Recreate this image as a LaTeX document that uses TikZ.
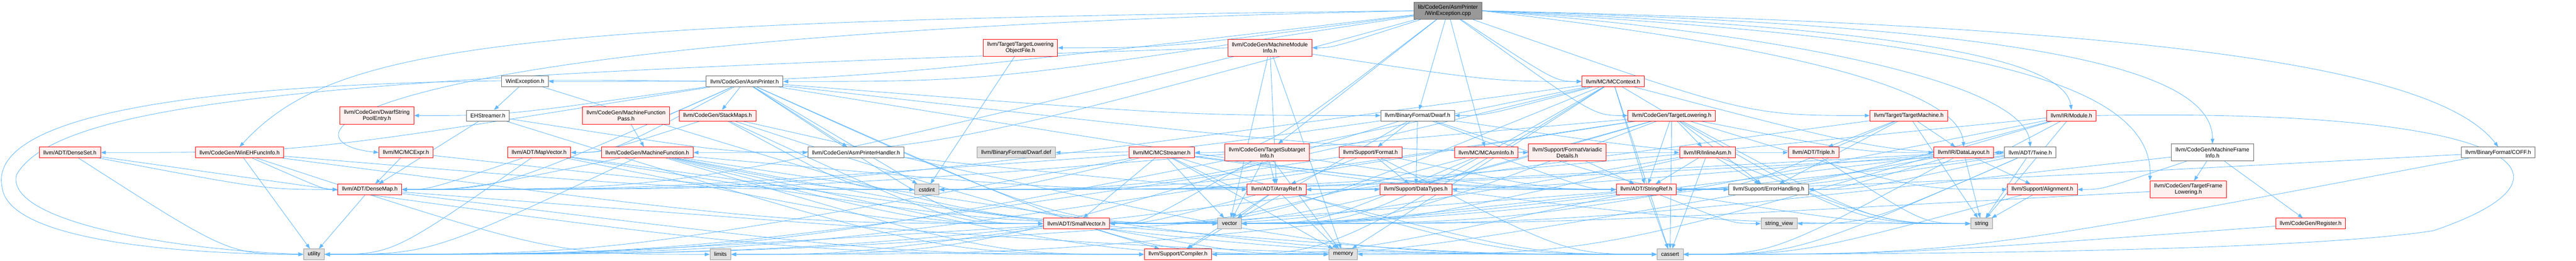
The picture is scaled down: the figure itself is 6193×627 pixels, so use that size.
\documentclass[tikz,border=0pt]{standalone}
\usepackage{fontspec}
\setmainfont{Liberation Sans}
\usetikzlibrary{arrows.meta}
\definecolor{eb}{HTML}{63B8FF}
\definecolor{rf}{HTML}{FFF0F0}
\definecolor{gf}{HTML}{E0E0E0}
\definecolor{gb}{HTML}{999999}
\definecolor{wb}{HTML}{666666}
\pgfdeclarelayer{bg}
\pgfsetlayers{bg,main}
\tikzset{
 nd/.style={draw, line width=0.8pt, font=\fontsize{10}{11.2}\selectfont, inner xsep=7.5pt, inner ysep=2pt, minimum height=19.5pt, align=center},
 rn/.style={nd, draw=red, fill=rf},
 wn/.style={nd, draw=wb, fill=white},
 gn/.style={nd, draw=gb, fill=gf},
 mn/.style={nd, draw=wb, fill=gb},
 two/.style={minimum height=30.75pt},
 e/.style={draw=eb, line width=0.8pt, -{Triangle[length=9pt,width=6.5pt]}},
}
\begin{document}
\begin{tikzpicture}[x=0.75pt,y=-0.75pt]
\useasboundingbox (0,0) rectangle (6193,627);
% row 0/1/2
\node[mn,two] (main) at (3481,26) {lib/CodeGen/AsmPrinter\\/WinException.cpp};
\node[rn,two] (tlof) at (2453,115) {llvm/Target/TargetLowering\\ObjectFile.h};
\node[rn,two] (mmi) at (3053,115) {llvm/CodeGen/MachineModule\\Info.h};
\node[wn] (winexh) at (1262,196) {WinException.h};
\node[wn] (asmp) at (1790,196) {llvm/CodeGen/AsmPrinter.h};
\node[rn] (mcctx) at (3878,196) {llvm/MC/MCContext.h};
% row 3
\node[rn,two] (dspe) at (906,278) {llvm/CodeGen/DwarfString\\PoolEntry.h};
\node[wn] (ehs) at (1173,278) {EHStreamer.h};
\node[rn,two] (mfp) at (1505,278) {llvm/CodeGen/MachineFunction\\Pass.h};
\node[rn] (stackmaps) at (1725,278) {llvm/CodeGen/StackMaps.h};
\node[wn] (dwarfh) at (3408,278) {llvm/BinaryFormat/Dwarf.h};
\node[rn] (tl) at (4019,278) {llvm/CodeGen/TargetLowering.h};
\node[rn] (tm) at (4589,278) {llvm/Target/TargetMachine.h};
\node[rn] (module) at (4980,278) {llvm/IR/Module.h};
% row 4
\node[rn] (denseset) at (168,367) {llvm/ADT/DenseSet.h};
\node[rn] (wineh) at (576,367) {llvm/CodeGen/WinEHFuncInfo.h};
\node[rn] (mcexpr) at (976,367) {llvm/MC/MCExpr.h};
\node[rn] (mapvec) at (1296,367) {llvm/ADT/MapVector.h};
\node[rn] (mf) at (1556,367) {llvm/CodeGen/MachineFunction.h};
\node[wn] (aph) at (2058,367) {llvm/CodeGen/AsmPrinterHandler.h};
\node[gn] (dwarfdef) at (2443,367) {llvm/BinaryFormat/Dwarf.def};
\node[rn] (mcstreamer) at (2793,367) {llvm/MC/MCStreamer.h};
\node[rn,two] (tsi) at (3046,367) {llvm/CodeGen/TargetSubtarget\\Info.h};
\node[rn] (format) at (3295,367) {llvm/Support/Format.h};
\node[rn] (mcasminfo) at (3573,367) {llvm/MC/MCAsmInfo.h};
\node[rn,two] (fvd) at (3768,367) {llvm/Support/FormatVariadic\\Details.h};
\node[rn] (inlineasm) at (4105,367) {llvm/IR/InlineAsm.h};
\node[rn] (triple) at (4360,367) {llvm/ADT/Triple.h};
\node[rn] (datalayout) at (4721,367) {llvm/IR/DataLayout.h};
\node[wn] (twine) at (4881,367) {llvm/ADT/Twine.h};
\node[wn,two] (mfi) at (5319,367) {llvm/CodeGen/MachineFrame\\Info.h};
\node[wn] (coff) at (6006,367) {llvm/BinaryFormat/COFF.h};
% row 5
\node[rn] (densemap) at (889,456) {llvm/ADT/DenseMap.h};
\node[gn] (cstdint) at (2228,456) {cstdint};
\node[rn] (arrayref) at (3069,456) {llvm/ADT/ArrayRef.h};
\node[rn] (datatypes) at (3404,456) {llvm/Support/DataTypes.h};
\node[rn] (stringref) at (3958,456) {llvm/ADT/StringRef.h};
\node[wn] (errh) at (4252,456) {llvm/Support/ErrorHandling.h};
\node[rn] (align) at (4910,456) {llvm/Support/Alignment.h};
\node[rn,two] (tfl) at (5261,456) {llvm/CodeGen/TargetFrame\\Lowering.h};
% row 6
\node[rn] (smallvec) at (2588,538) {llvm/ADT/SmallVector.h};
\node[gn] (vector) at (2956,538) {vector};
\node[gn] (stringview) at (4277,538) {string\_view};
\node[gn] (string) at (4764,538) {string};
\node[rn] (register) at (5555,538) {llvm/CodeGen/Register.h};
% row 7
\node[gn] (utility) at (755,612) {utility};
\node[gn] (limits) at (1732,612) {limits};
\node[rn] (compiler) at (2832,612) {llvm/Support/Compiler.h};
\node[gn] (memory) at (3229,612) {memory};
\node[gn] (cassert) at (4015,612) {cassert};

\begin{pgfonlayer}{bg}
\foreach \a/\b in {main/winexh, main/asmp, main/mmi, main/tlof, main/mcctx, main/dwarfh, main/tl, main/tm, main/tsi, main/mcasminfo, main/mcstreamer, main/mf,
 winexh/ehs, winexh/vector, ehs/aph, ehs/densemap, ehs/compiler,
 asmp/densemap, asmp/mapvec, asmp/smallvec, asmp/dwarfh, asmp/aph, asmp/dspe, asmp/mfp, asmp/stackmaps, asmp/inlineasm, asmp/errh, asmp/cstdint, asmp/memory, asmp/vector, asmp/denseset,
 aph/datatypes, mfp/mf,
 stackmaps/mapvec, stackmaps/smallvec, stackmaps/cassert, stackmaps/cstdint, stackmaps/vector,
 mf/arrayref, mf/densemap, mf/smallvec, mf/compiler, mf/cassert, mf/cstdint, mf/memory, mf/utility, mf/vector,
 mapvec/smallvec, mapvec/densemap, mapvec/cassert, mapvec/utility, mapvec/vector,
 mmi/arrayref, mmi/densemap, mmi/mcctx, mmi/memory, mmi/vector, tlof/cstdint,
 mcctx/densemap, mcctx/smallvec, mcctx/stringref, mcctx/twine, mcctx/dwarfh, mcctx/compiler, mcctx/cassert, mcctx/cstdint, mcctx/memory, mcctx/string, mcctx/utility, mcctx/vector,
 dwarfh/compiler, dwarfh/datatypes, dwarfh/errh, dwarfh/format, dwarfh/fvd, dwarfh/triple, dwarfh/limits, dwarfh/dwarfdef,
 tl/arrayref, tl/densemap, tl/smallvec, tl/stringref, tl/inlineasm, tl/datalayout, tl/errh, tl/align, tl/cassert, tl/cstdint, tl/string, tl/utility, tl/vector,
 tm/triple, tm/datalayout, tm/stringref, tm/string, tm/utility, tm/errh,
 module/datalayout, module/stringref, module/cstdint, module/memory, module/string, module/vector,
 datalayout/arrayref, datalayout/smallvec, datalayout/stringref, datalayout/align, datalayout/errh, datalayout/cassert, datalayout/cstdint, datalayout/string,
 twine/smallvec, twine/stringref, twine/errh, twine/cassert, twine/cstdint, twine/string, twine/stringview,
 mfi/tfl, mfi/register, mfi/align, mfi/vector, coff/datatypes, coff/cassert, tfl/vector, register/cassert,
 denseset/densemap, denseset/utility, denseset/compiler,
 wineh/densemap, wineh/smallvec, wineh/cstdint, wineh/limits, wineh/utility,
 mcexpr/densemap, mcexpr/cstdint, densemap/compiler, densemap/cassert, densemap/utility,
 mcstreamer/arrayref, mcstreamer/densemap, mcstreamer/smallvec, mcstreamer/stringref, mcstreamer/cassert, mcstreamer/cstdint, mcstreamer/memory, mcstreamer/string, mcstreamer/utility, mcstreamer/vector,
 tsi/arrayref, tsi/smallvec, tsi/stringref, tsi/memory, tsi/vector,
 format/arrayref, format/stringref, format/datatypes, format/cassert, format/utility,
 mcasminfo/smallvec, mcasminfo/stringref, mcasminfo/vector, fvd/stringref,
 inlineasm/smallvec, inlineasm/stringref, inlineasm/errh, inlineasm/cassert, inlineasm/string, inlineasm/vector,
 triple/string, arrayref/smallvec, arrayref/compiler, arrayref/cassert, arrayref/memory, arrayref/vector,
 stringref/compiler, stringref/cassert, stringref/limits, stringref/string, stringref/stringview, stringref/utility,
 errh/compiler, smallvec/compiler, smallvec/cassert, smallvec/limits, smallvec/memory, smallvec/utility,
 align/cassert, align/string}{%
  \pgfpointanchor{\a}{center}\pgfgetlastxy{\ax}{\ay}%
  \pgfpointanchor{\b}{center}\pgfgetlastxy{\bx}{\by}%
  \pgfmathsetmacro{\dx}{\bx-\ax}%
  \pgfmathsetmacro{\dy}{\ay-\by}%
  \pgfmathtruncatemacro{\side}{(abs(\dx)>2*\dy && abs(\dx)>187.5) ? 1 : 0}%
  \ifnum\side=1
    \pgfmathsetmacro{\cx}{\bx-0.35*\dx}%
    \ifdim\dx pt>0pt
      \draw[e] (\a) .. controls (\cx pt,\by) .. (\b.west);
    \else
      \draw[e] (\a) .. controls (\cx pt,\by) .. (\b.east);
    \fi
  \else
    \draw[e] (\a) -- (\b);
  \fi
}
% curved edges
\draw[e] (main.west) .. controls (1200,50) and (800,110) .. (wineh.north);
\draw[e] (main.west) .. controls (800,80) and (650,340) .. (mcexpr.west);
\draw[e] (asmp.west) .. controls (200,170) and (-20,330) .. (5,450) .. controls (20,590) and (500,612) .. (utility.west);
\draw[e] (mmi.west) .. controls (900,180) and (150,230) .. (40,420) .. controls (10,530) and (400,600) .. (utility.west);
\draw[e] (module.east) .. controls (6050,260) and (6250,420) .. (5850,555) .. controls (5500,610) and (4400,612) .. (cassert.east);
\draw[e] (main.east) .. controls (4500,80) and (5180,150) .. (tfl.north west);
\draw[e] (main.east) .. controls (5100,60) and (5850,150) .. (coff.north);
\draw[e] (main.east) .. controls (4800,60) and (5320,150) .. (mfi.north);
\draw[e] (main.east) .. controls (4400,60) and (4960,120) .. (module.north);
\draw[e] (main.east) .. controls (4300,80) and (4870,200) .. (twine.north);
\draw[e] (main.east) .. controls (4200,100) and (4710,200) .. (datalayout.north);
\end{pgfonlayer}
\end{tikzpicture}
\end{document}
